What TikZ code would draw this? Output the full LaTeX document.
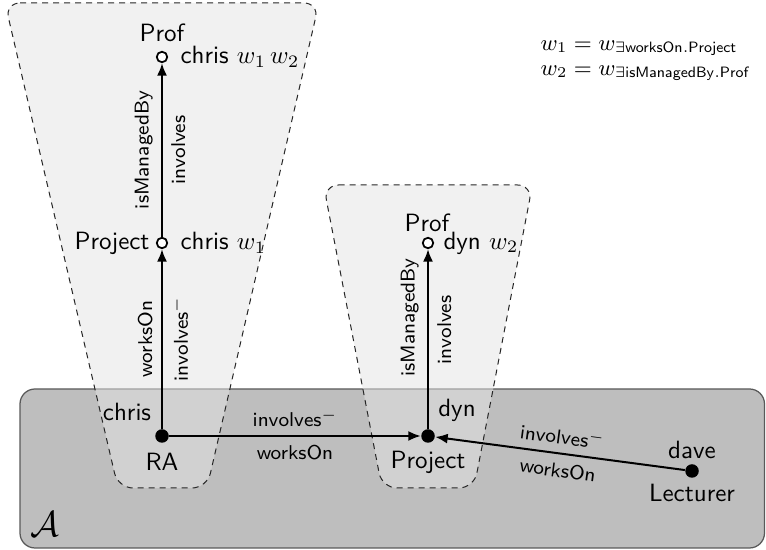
\documentclass[tikz,border=0pt]{standalone}
\usetikzlibrary{arrows.meta}
\definecolor{boxc}{RGB}{190,190,190}
\definecolor{funnelc}{RGB}{228,228,228}
\begin{document}
\begin{tikzpicture}[x=0.4pt,y=-0.4pt, font=\sffamily,
  dot/.style={circle,fill=black,inner sep=0pt,minimum size=5.4pt},
  odot/.style={circle,draw=black,fill=white,line width=0.7pt,inner sep=0pt,minimum size=4.2pt},
  arr/.style={line width=0.8pt,-{Latex[length=5pt,width=4pt]}},
  lbl/.style={font=\sffamily\footnotesize},
  funnel/.style={draw=black!85,dash pattern=on 2.4pt off 2pt,line width=0.4pt,fill=funnelc,fill opacity=0.52,rounded corners=6pt}
]
\useasboundingbox (0,0) rectangle (766,550);
% ABox
\draw[fill=boxc,draw=black!65,line width=0.5pt,rounded corners=6pt] (20,389) rectangle (764.5,548);
% funnels
\path[funnel] (5,3) -- (319,3) -- (207,488) -- (118,488) -- cycle;
\path[funnel] (323.5,185) -- (532.5,185) -- (474,488) -- (382,488) -- cycle;
% nodes
\node[dot] (ra) at (162,436) {};
\node[dot] (proj) at (428,436) {};
\node[dot] (dave) at (692,471) {};
\node[odot] (c1) at (162,243) {};
\node[odot] (c2) at (162,57) {};
\node[odot] (d1) at (428,243) {};
% node texts
\node (tprof1) at (162,33) {Prof};
\node[anchor=west,inner sep=0pt] (tc2) at (180,57) {chris $w_1\,w_2$};
\node[anchor=east,inner sep=0pt] (tproj1) at (150,243) {Project};
\node[anchor=west,inner sep=0pt] (tc1) at (180,243) {chris $w_1$};
\node (tprof2) at (427,223) {Prof};
\node[anchor=west,inner sep=0pt] (td1) at (443,243) {dyn $w_2$};
\node (tchris) at (127,412) {chris};
\node (tra) at (162,462) {RA};
\node (tdyn) at (457,410) {dyn};
\node (tproj2) at (428,462) {Project};
\node (tdave) at (692,450) {dave};
\node (tlect) at (692,493) {Lecturer};
\node (tA) at (45,524) {\Large$\mathcal{A}$};
\node[anchor=west,inner sep=0pt,font=\small] (f1) at (540,48) {$w_1 = w_{\exists\mathsf{worksOn.Project}}$};
\node[anchor=west,inner sep=0pt,font=\small] (f2) at (540,73) {$w_2 = w_{\exists\mathsf{isManagedBy.Prof}}$};
% edges
\draw[arr] (ra) -- node[lbl,sloped,above] (l1) {worksOn} node[lbl,sloped,below] (l2) {involves$^-$} (c1);
\draw[arr] (c1) -- node[lbl,sloped,above] (l3) {isManagedBy} node[lbl,sloped,below] (l4) {involves} (c2);
\draw[arr] (proj) -- node[lbl,sloped,above,pos=0.62] (l5) {isManagedBy} node[lbl,sloped,below,pos=0.55] (l6) {involves} (d1);
\draw[arr] (ra) -- node[lbl,above] (l7) {involves$^-$} node[lbl,below] (l8) {worksOn} (proj);
\draw[arr] (dave) -- node[lbl,sloped,above] (l9) {involves$^-$} node[lbl,sloped,below] (l10) {worksOn} (proj);
\end{tikzpicture}
\end{document}
